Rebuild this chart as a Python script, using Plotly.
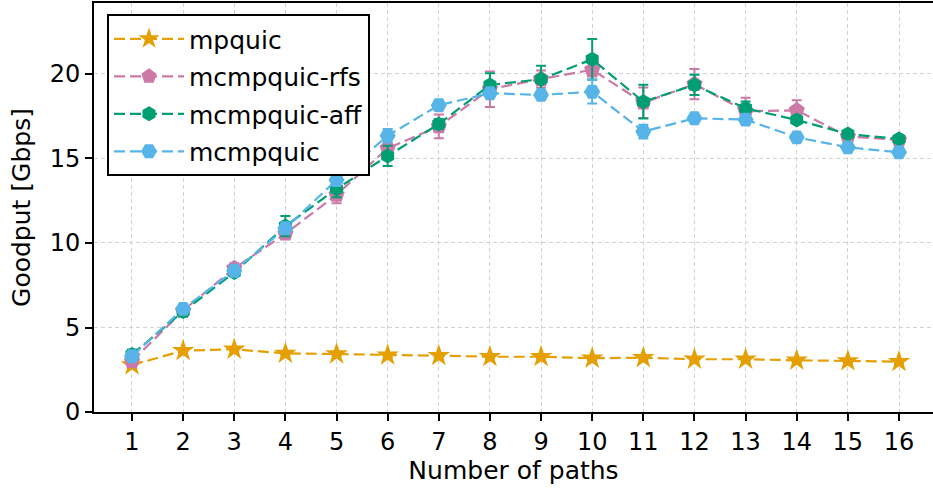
import plotly.graph_objects as go

paths = list(range(1, 17))

mpquic = [2.78, 3.63, 3.71, 3.47, 3.43, 3.36, 3.33, 3.27, 3.27, 3.18, 3.21, 3.12, 3.12, 3.06, 3.02, 2.98]
mpquic_err = [0.1, 0.1, 0.1, 0.1, 0.1, 0.1, 0.1, 0.1, 0.1, 0.1, 0.1, 0.1, 0.1, 0.1, 0.1, 0.1]

rfs = [3.0, 6.0, 8.5, 10.55, 12.85, 15.6, 16.9, 19.1, 19.7, 20.25, 18.3, 19.4, 17.8, 17.85, 16.3, 16.1]
rfs_err = [0.2, 0.2, 0.3, 0.2, 0.5, 0.3, 0.7, 1.05, 0.5, 0.4, 0.9, 0.9, 0.8, 0.6, 0.2, 0.2]

aff = [3.4, 5.95, 8.25, 11.0, 13.2, 15.15, 17.04, 19.35, 19.69, 20.87, 18.36, 19.35, 17.97, 17.28, 16.45, 16.15]
aff_err = [0.3, 0.3, 0.2, 0.6, 0.5, 0.6, 0.3, 0.7, 0.8, 1.2, 1.0, 0.6, 0.4, 0.2, 0.2, 0.2]

mcmp = [3.3, 6.1, 8.36, 10.87, 13.73, 16.35, 18.15, 18.86, 18.76, 18.95, 16.59, 17.38, 17.3, 16.25, 15.66, 15.37]
mcmp_err = [0.2, 0.2, 0.2, 0.2, 0.3, 0.4, 0.3, 0.2, 0.2, 0.7, 0.4, 0.2, 0.2, 0.2, 0.2, 0.2]

series = [
    ("mpquic", mpquic, mpquic_err, "#E69F00", "star", 17),
    ("mcmpquic-rfs", rfs, rfs_err, "#CC79A7", "pentagon", 17),
    ("mcmpquic-aff", aff, aff_err, "#009E73", "hexagon", 15),
    ("mcmpquic", mcmp, mcmp_err, "#56B4E9", "hexagon2", 16),
]

FONT = "DejaVu Sans"

fig = go.Figure()
for name, vals, errs, color, sym, size in series:
    fig.add_trace(go.Scatter(
        x=paths, y=vals, name=name, mode="lines+markers",
        legendgroup=name,
        line=dict(color=color, width=2.2, dash="11px,5px"),
        marker=dict(symbol=sym, size=size, color=color, line=dict(width=0)),
        error_y=dict(type="data", array=errs, visible=True, color=color,
                     thickness=2, width=5),
    ))

fig.update_layout(
    width=933, height=490,
    margin=dict(l=94, r=0, t=3, b=78),
    paper_bgcolor="white", plot_bgcolor="white",
    font=dict(family=FONT, size=24, color="black"),
    showlegend=True,
    legend=dict(
        x=0.0155, y=0.973, xanchor="left", yanchor="top",
        bgcolor="white", bordercolor="black", borderwidth=2,
        font=dict(family=FONT, size=25, color="black"),
        traceorder="grouped", tracegroupgap=2,
        itemwidth=70,
    ),
)

fig.update_xaxes(
    range=[0.257, 16.665], tickmode="array", tickvals=paths,
    ticktext=[str(p) for p in paths],
    showline=True, linecolor="black", linewidth=2, mirror=True,
    ticks="outside", ticklen=7, tickwidth=1.5, tickcolor="black",
    showgrid=True, gridcolor="#d3d3d3", griddash="4px,3px", gridwidth=1,
    zeroline=False,
    title=dict(text="Number of paths", font=dict(family=FONT, size=25), standoff=6),
    tickfont=dict(family=FONT, size=24),
)
fig.update_yaxes(
    range=[0, 24.2], tickmode="array", tickvals=[0, 5, 10, 15, 20],
    showline=True, linecolor="black", linewidth=2, mirror=False,
    ticks="outside", ticklen=7, tickwidth=1.5, tickcolor="black",
    showgrid=True, gridcolor="#d3d3d3", griddash="4px,3px", gridwidth=1,
    zeroline=False,
    title=dict(text="Goodput [Gbps]", font=dict(family=FONT, size=25), standoff=12),
    tickfont=dict(family=FONT, size=24),
)

fig.write_html("out.html")
